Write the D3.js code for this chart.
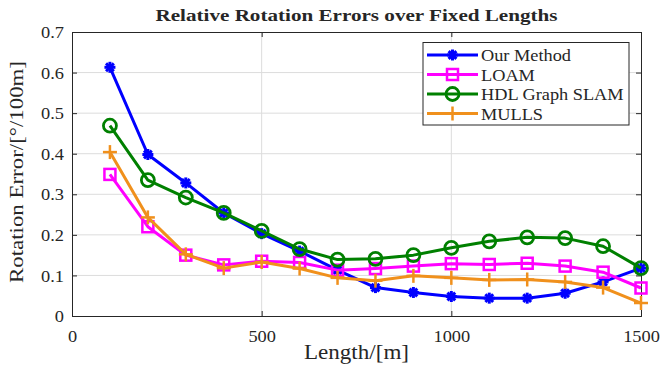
<!DOCTYPE html>
<html>
<head>
<meta charset="utf-8">
<script src="https://cdn.jsdelivr.net/npm/d3@7"></script>
<style>
body { margin: 0; background: #fff; }
text { font-family: "Liberation Serif", "DejaVu Serif", serif; fill: #262626; }
</style>
</head>
<body>
<script>
const lengths = [100, 200, 300, 400, 500, 600, 700, 800, 900, 1000, 1100, 1200, 1300, 1400, 1500];
const ourMethod = [0.613, 0.398, 0.328, 0.254, 0.203, 0.160, 0.113, 0.070, 0.058, 0.048, 0.044, 0.044, 0.056, 0.084, 0.118];
const loam = [0.349, 0.220, 0.150, 0.126, 0.135, 0.132, 0.113, 0.117, 0.123, 0.129, 0.127, 0.130, 0.123, 0.108, 0.069];
const hdl = [0.469, 0.335, 0.292, 0.254, 0.210, 0.165, 0.139, 0.141, 0.150, 0.168, 0.184, 0.194, 0.192, 0.172, 0.118];
const mulls = [0.404, 0.243, 0.152, 0.118, 0.133, 0.117, 0.094, 0.087, 0.099, 0.094, 0.089, 0.090, 0.084, 0.070, 0.032];
const seriesNames = ["Our Method", "LOAM", "HDL Graph SLAM", "MULLS"];
const xTicks = [0, 500, 1000, 1500];
const yTicks = [0, 0.1, 0.2, 0.3, 0.4, 0.5, 0.6, 0.7];

const width = 661, height = 369;
const mLeft = 72, mRight = 641, mTop = 32, mBottom = 316;

const series = [
  { name: seriesNames[0], values: ourMethod, color: "#0000ff", marker: "star" },
  { name: seriesNames[1], values: loam, color: "#ff00ff", marker: "square" },
  { name: seriesNames[2], values: hdl, color: "#008000", marker: "circle" },
  { name: seriesNames[3], values: mulls, color: "#f0901c", marker: "plus" }
];

const x = d3.scaleLinear().domain([0, 1500]).range([mLeft, mRight]);
const y = d3.scaleLinear().domain([0, 0.7]).range([mBottom, mTop]);

const svg = d3.select("body").append("svg")
  .attr("width", width).attr("height", height);

// widen Times-like glyphs toward the wider LaTeX look
function stretch(sel, factor) {
  sel.each(function () {
    const w = this.getComputedTextLength();
    d3.select(this).attr("textLength", w * factor).attr("lengthAdjust", "spacingAndGlyphs");
  });
}

// grid
svg.append("g").selectAll("line").data(yTicks.slice(1, -1)).enter().append("line")
  .attr("x1", mLeft).attr("x2", mRight)
  .attr("y1", d => y(d)).attr("y2", d => y(d))
  .attr("stroke", "#dcdcdc").attr("stroke-width", 1);
svg.append("g").selectAll("line").data(xTicks.slice(1, -1)).enter().append("line")
  .attr("y1", mTop).attr("y2", mBottom)
  .attr("x1", d => x(d)).attr("x2", d => x(d))
  .attr("stroke", "#dcdcdc").attr("stroke-width", 1);

// axes, ticks inward
const xAxis = d3.axisBottom(x).tickValues(xTicks).tickSize(-5).tickPadding(14).tickFormat(d3.format("d"));
const yAxis = d3.axisLeft(y).tickValues(yTicks).tickSize(-5).tickPadding(8).tickFormat(d => d === 0 ? "0" : d3.format(".1f")(d));

const gx = svg.append("g").attr("transform", `translate(0,${mBottom})`).call(xAxis);
const gy = svg.append("g").attr("transform", `translate(${mLeft},0)`).call(yAxis);
const gx2 = svg.append("g").attr("transform", `translate(0,${mTop})`).call(d3.axisTop(x).tickValues(xTicks).tickSize(-5).tickFormat(""));
const gy2 = svg.append("g").attr("transform", `translate(${mRight},0)`).call(d3.axisRight(y).tickValues(yTicks).tickSize(-5).tickFormat(""));
[gx, gy, gx2, gy2].forEach(g => {
  g.select(".domain").attr("stroke", "#262626");
  g.selectAll(".tick line").attr("stroke", "#262626");
  g.selectAll("text").style("font-size", "17.5px").attr("fill", "#262626")
    .style("font-family", "'Liberation Serif', 'DejaVu Serif', serif");
});
stretch(gx.selectAll("text"), 1.05);
stretch(gy.selectAll("text"), 1.05);

// markers
function drawMarker(g, type, color, cx, cy) {
  if (type === "star") {
    const r = 5.5;
    [0, 45, 90, 135].forEach(a => {
      const rad = a * Math.PI / 180;
      g.append("line")
        .attr("x1", cx - r * Math.cos(rad)).attr("y1", cy - r * Math.sin(rad))
        .attr("x2", cx + r * Math.cos(rad)).attr("y2", cy + r * Math.sin(rad))
        .attr("stroke", color).attr("stroke-width", 3);
    });
  } else if (type === "square") {
    g.append("rect").attr("x", cx - 5.5).attr("y", cy - 5.5).attr("width", 11).attr("height", 11)
      .attr("fill", "none").attr("stroke", color).attr("stroke-width", 2.5);
  } else if (type === "circle") {
    g.append("circle").attr("cx", cx).attr("cy", cy).attr("r", 6.5)
      .attr("fill", "none").attr("stroke", color).attr("stroke-width", 2.8);
  } else if (type === "plus") {
    const r = 7;
    g.append("line").attr("x1", cx - r).attr("x2", cx + r).attr("y1", cy).attr("y2", cy)
      .attr("stroke", color).attr("stroke-width", 2.5);
    g.append("line").attr("x1", cx).attr("x2", cx).attr("y1", cy - r).attr("y2", cy + r)
      .attr("stroke", color).attr("stroke-width", 2.5);
  }
}

const line = d3.line().x(d => x(d[0])).y(d => y(d[1]));
series.forEach(s => {
  const pts = lengths.map((l, i) => [l, s.values[i]]);
  const g = svg.append("g");
  g.append("path").datum(pts).attr("d", line)
    .attr("fill", "none").attr("stroke", s.color).attr("stroke-width", 3).attr("stroke-linejoin", "round");
  pts.forEach(p => drawMarker(g, s.marker, s.color, x(p[0]), y(p[1])));
});

// title and labels
svg.append("text").attr("x", (mLeft + mRight) / 2).attr("y", 21)
  .attr("text-anchor", "middle").style("font-size", "17px").style("font-weight", "bold")
  .attr("fill", "#000").attr("textLength", 402).attr("lengthAdjust", "spacingAndGlyphs")
  .text("Relative Rotation Errors over Fixed Lengths");
svg.append("text").attr("x", (mLeft + mRight) / 2).attr("y", 359)
  .attr("text-anchor", "middle").style("font-size", "20px")
  .attr("textLength", 105).attr("lengthAdjust", "spacingAndGlyphs").text("Length/[m]");
svg.append("text").attr("transform", `translate(23,172) rotate(-90)`)
  .attr("text-anchor", "middle").style("font-size", "19.5px")
  .attr("textLength", 222).attr("lengthAdjust", "spacingAndGlyphs").text("Rotation Error/[°/100m]");

// legend
const lg = svg.append("g");
lg.append("rect").attr("x", 423).attr("y", 42.5).attr("width", 206).attr("height", 82.5)
  .attr("fill", "#fff").attr("stroke", "#262626").attr("stroke-width", 1);
series.forEach((s, i) => {
  const ly = 55 + i * 19.5;
  lg.append("line").attr("x1", 427).attr("x2", 478).attr("y1", ly).attr("y2", ly)
    .attr("stroke", s.color).attr("stroke-width", 3);
  drawMarker(lg, s.marker, s.color, 452.5, ly);
  lg.append("text").attr("x", 481).attr("y", ly + 6).style("font-size", "17px").text(s.name);
});
stretch(lg.selectAll("text"), 1.076);
</script>
</body>
</html>
